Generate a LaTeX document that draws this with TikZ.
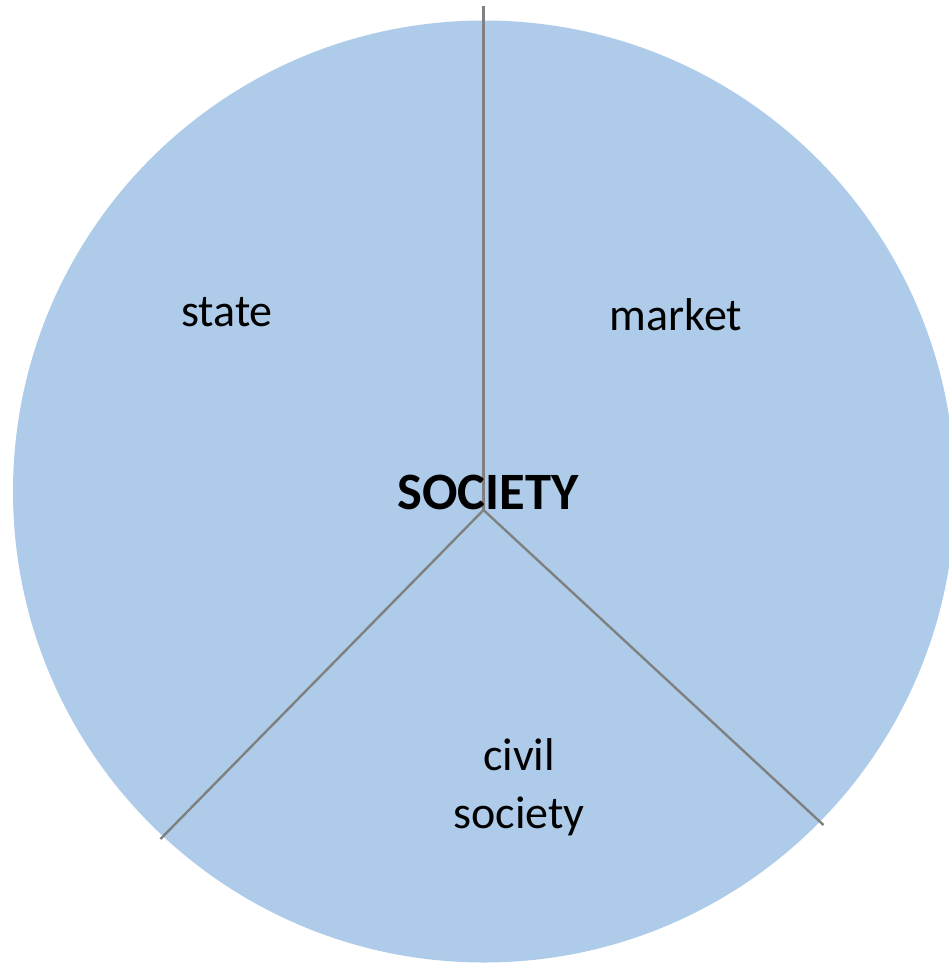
\documentclass[tikz,border=0pt]{standalone}
\usepackage{fontspec}
\setmainfont{Carlito}
\definecolor{diskblue}{RGB}{174,204,233}
\definecolor{divgray}{RGB}{128,128,128}
\begin{document}
\begin{tikzpicture}[x=1pt,y=-1pt,
  divider/.style={draw=divgray,line width=2.4pt},
  label/.style={font=\fontsize{46}{58}\selectfont,align=center,text=black,inner sep=0pt},
  biglabel/.style={font=\fontsize{52.5}{62}\selectfont\bfseries,text=black,inner sep=0pt}]
\useasboundingbox (0,0) rectangle (949,964);
\clip (0,0) rectangle (949,964);
\node[circle,fill=diskblue,draw=none,minimum size=942pt,inner sep=0pt] (disk) at (484,491.5) {};
\coordinate (hub) at (483.5,510);
\coordinate (top) at (483.5,6);
\coordinate (ll) at (160.5,839);
\coordinate (lr) at (823.5,825);
\draw[divider] (hub) -- (top);
\draw[divider] (hub) -- (ll);
\draw[divider] (hub) -- (lr);
\node[label] (state) at (227,312) {state};
\node[label] (market) at (676,315) {market};
\node[biglabel] (soc) at (488,492) {SOCIETY};
\node[label] (civil) at (519,787) {civil\\society};
\end{tikzpicture}
\end{document}
